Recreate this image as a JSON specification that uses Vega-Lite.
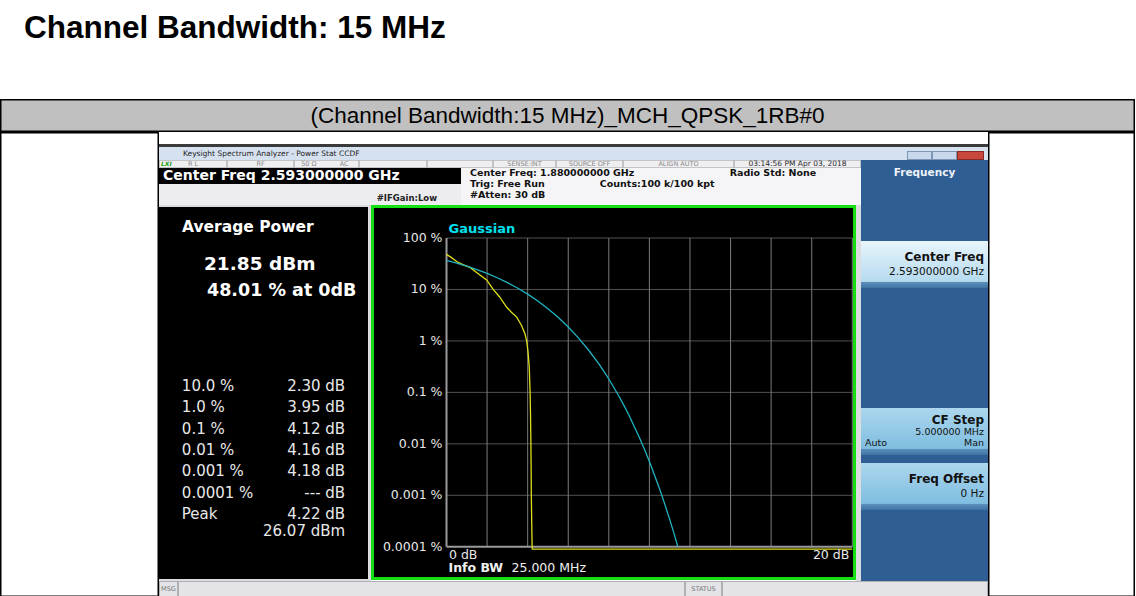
{
"$schema":"https://vega.github.io/schema/vega-lite/v6.json",
"padding":{"top":12,"left":0,"right":0,"bottom":0},
"background":"#ffffff",
"title":{"text":"Channel Bandwidth: 15 MHz","anchor":"start","frame":"bounds","dx":24,"offset":55,"font":"Liberation Sans","fontSize":31.5,"fontWeight":"bold","color":"#000000"},
"config":{"view":{"stroke":null},"concat":{"spacing":0},"text":{"font":"DejaVu Sans"}},
"datasets":{
"blank":[{"panel":"blank"}],
"ccdf":[
{"series":"Measured","db":0,"pct":48.0},
{"series":"Measured","db":0.25,"pct":41.5},
{"series":"Measured","db":0.5,"pct":35.0},
{"series":"Measured","db":0.8,"pct":30.5},
{"series":"Measured","db":1.16,"pct":26.8},
{"series":"Measured","db":1.5,"pct":21.2},
{"series":"Measured","db":1.98,"pct":15.3},
{"series":"Measured","db":2.3,"pct":10.0},
{"series":"Measured","db":2.6,"pct":7.3},
{"series":"Measured","db":2.97,"pct":4.5},
{"series":"Measured","db":3.2,"pct":3.6},
{"series":"Measured","db":3.46,"pct":2.9},
{"series":"Measured","db":3.7,"pct":2.0},
{"series":"Measured","db":3.87,"pct":1.36},
{"series":"Measured","db":3.95,"pct":1.0},
{"series":"Measured","db":4.02,"pct":0.6},
{"series":"Measured","db":4.08,"pct":0.3},
{"series":"Measured","db":4.12,"pct":0.1},
{"series":"Measured","db":4.14,"pct":0.04},
{"series":"Measured","db":4.16,"pct":0.01},
{"series":"Measured","db":4.17,"pct":0.004},
{"series":"Measured","db":4.18,"pct":0.001},
{"series":"Measured","db":4.2,"pct":0.0003},
{"series":"Measured","db":4.22,"pct":0.0001},
{"series":"Measured","db":4.23,"pct":0.00009},
{"series":"Measured","db":20,"pct":0.00009},
{"series":"Gaussian","db":0,"pct":36.79},
{"series":"Gaussian","db":0.5,"pct":32.56},
{"series":"Gaussian","db":1,"pct":28.4},
{"series":"Gaussian","db":1.5,"pct":24.35},
{"series":"Gaussian","db":2,"pct":20.5},
{"series":"Gaussian","db":2.5,"pct":16.89},
{"series":"Gaussian","db":3,"pct":13.6},
{"series":"Gaussian","db":3.5,"pct":10.66},
{"series":"Gaussian","db":4,"pct":8.11},
{"series":"Gaussian","db":4.5,"pct":5.97},
{"series":"Gaussian","db":5,"pct":4.23},
{"series":"Gaussian","db":5.5,"pct":2.88},
{"series":"Gaussian","db":6,"pct":1.867},
{"series":"Gaussian","db":6.5,"pct":1.148},
{"series":"Gaussian","db":7,"pct":0.666},
{"series":"Gaussian","db":7.5,"pct":0.361},
{"series":"Gaussian","db":7.75,"pct":0.259},
{"series":"Gaussian","db":8,"pct":0.182},
{"series":"Gaussian","db":8.5,"pct":0.0842},
{"series":"Gaussian","db":8.75,"pct":0.0553},
{"series":"Gaussian","db":9,"pct":0.0355},
{"series":"Gaussian","db":9.5,"pct":0.01347},
{"series":"Gaussian","db":9.75,"pct":0.00794},
{"series":"Gaussian","db":10,"pct":0.00454},
{"series":"Gaussian","db":10.5,"pct":0.00134},
{"series":"Gaussian","db":10.75,"pct":0.000689},
{"series":"Gaussian","db":11,"pct":0.000341},
{"series":"Gaussian","db":11.2,"pct":0.000188},
{"series":"Gaussian","db":11.4,"pct":0.000101}
]
},
"spacing":0,
"vconcat":[
{"width":1135,"height":33,"view":{"fill":"#c0c0c0"},
 "layer":[
  {"data":{"name":"blank"},"mark":{"type":"rect","fill":"#c0c0c0","stroke":"#000000","strokeWidth":3,"clip":true}},
  {"data":{"values":[{"caption":"(Channel Bandwidth:15 MHz)_MCH_QPSK_1RB#0"}]},
   "mark":{"type":"text","font":"Liberation Sans","fontSize":22.5,"color":"#000000"},
   "encoding":{"text":{"field":"caption"}}}
 ]},
{"hconcat":[
 {"width":159,"height":465,"view":{"fill":"#ffffff"},"data":{"name":"blank"},"mark":{"type":"rect","fill":"#ffffff","stroke":"#000000","strokeWidth":3,"clip":true}},
 {"vconcat":[
  {"width":829,"height":12,"view":{"fill":"#ffffff"},"data":{"name":"blank"},"mark":{"type":"rect","opacity":0}},
  {"width":829,"height":3,"view":{"fill":"#3a3a3a"},"data":{"name":"blank"},"mark":{"type":"rect","opacity":0}},
  {"hconcat":[
   {"width":748,"height":13,"view":{"fill":"#d6e1ef"},"data":{"values":[{"window":"Keysight Spectrum Analyzer - Power Stat CCDF"}]},
    "mark":{"type":"text","align":"left","dx":24,"fontSize":7.5,"color":"#1e1e1e"},
    "encoding":{"text":{"field":"window"},"x":{"datum":"start","type":"nominal","scale":{"type":"point","align":0},"axis":null}}},
   {"vconcat":[
    {"width":81,"height":4,"view":{"fill":"#d6e1ef"},"data":{"name":"blank"},"mark":{"type":"rect","opacity":0}},
    {"hconcat":[
     {"width":25,"height":9,"view":{"fill":"#c9d8ec"},"data":{"name":"blank"},"mark":{"type":"rect","fill":"#c9d8ec","stroke":"#7f95b5","strokeWidth":2,"clip":true}},
     {"width":25,"height":9,"view":{"fill":"#c9d8ec"},"data":{"name":"blank"},"mark":{"type":"rect","fill":"#c9d8ec","stroke":"#7f95b5","strokeWidth":2,"clip":true}},
     {"width":27,"height":9,"view":{"fill":"#c8483e"},"data":{"name":"blank"},"mark":{"type":"rect","fill":"#c8483e","stroke":"#8a2a22","strokeWidth":2,"clip":true}},
     {"width":4,"height":9,"view":{"fill":"#d6e1ef"},"data":{"name":"blank"},"mark":{"type":"rect","opacity":0}}
    ],"spacing":0,"bounds":"flush"}
   ],"spacing":0}
  ],"spacing":0},
  {"hconcat":[
   {"vconcat":[
    {"hconcat":[
     {"width":68,"height":8,"view":{"fill":"#efeff2"},"layer":[
       {"data":{"name":"blank"},"mark":{"type":"rect","fill":"#efeff2","stroke":"#b5b5ba","strokeWidth":1.5,"clip":true}},
       {"data":{"values":[{"status":"LXI"}]},"mark":{"type":"text","align":"left","dx":2,"fontSize":6,"fontWeight":"bold","fontStyle":"italic","color":"#14a014"},"encoding":{"text":{"field":"status"},"x":{"datum":"start","type":"nominal","scale":{"type":"point","align":0},"axis":null}}},
       {"data":{"values":[{"status":"R L"}]},"mark":{"type":"text","fontSize":6.5,"color":"#8a8a8a"},"encoding":{"text":{"field":"status"}}}
     ]},
     {"width":67,"height":8,"view":{"fill":"#efeff2"},"layer":[
       {"data":{"name":"blank"},"mark":{"type":"rect","fill":"#efeff2","stroke":"#b5b5ba","strokeWidth":1.5,"clip":true}},
       {"data":{"values":[{"status":"RF"}]},"mark":{"type":"text","fontSize":6.5,"color":"#8a8a8a"},"encoding":{"text":{"field":"status"}}}]},
     {"width":65,"height":8,"view":{"fill":"#efeff2"},"layer":[
       {"data":{"name":"blank"},"mark":{"type":"rect","fill":"#efeff2","stroke":"#b5b5ba","strokeWidth":1.5,"clip":true}},
       {"data":{"values":[{"status":"50 Ω"},{"status":"AC"}]},"mark":{"type":"text","fontSize":6.5,"color":"#8a8a8a"},"encoding":{"text":{"field":"status"},"x":{"field":"status","type":"nominal","sort":null,"scale":{"type":"point","padding":0.42},"axis":null}}}]},
     {"width":68,"height":8,"view":{"fill":"#efeff2"},"data":{"name":"blank"},"mark":{"type":"rect","fill":"#efeff2","stroke":"#b5b5ba","strokeWidth":1.5,"clip":true}},
     {"width":66,"height":8,"view":{"fill":"#efeff2"},"data":{"name":"blank"},"mark":{"type":"rect","fill":"#efeff2","stroke":"#b5b5ba","strokeWidth":1.5,"clip":true}},
     {"width":63,"height":8,"view":{"fill":"#efeff2"},"layer":[
       {"data":{"name":"blank"},"mark":{"type":"rect","fill":"#efeff2","stroke":"#b5b5ba","strokeWidth":1.5,"clip":true}},
       {"data":{"values":[{"status":"SENSE:INT"}]},"mark":{"type":"text","fontSize":6.5,"color":"#8a8a8a"},"encoding":{"text":{"field":"status"}}}]},
     {"width":67,"height":8,"view":{"fill":"#efeff2"},"layer":[
       {"data":{"name":"blank"},"mark":{"type":"rect","fill":"#efeff2","stroke":"#b5b5ba","strokeWidth":1.5,"clip":true}},
       {"data":{"values":[{"status":"SOURCE OFF"}]},"mark":{"type":"text","fontSize":6.5,"color":"#8a8a8a"},"encoding":{"text":{"field":"status"}}}]},
     {"width":111,"height":8,"view":{"fill":"#efeff2"},"layer":[
       {"data":{"name":"blank"},"mark":{"type":"rect","fill":"#efeff2","stroke":"#b5b5ba","strokeWidth":1.5,"clip":true}},
       {"data":{"values":[{"status":"ALIGN AUTO"}]},"mark":{"type":"text","fontSize":6.5,"color":"#8a8a8a"},"encoding":{"text":{"field":"status"}}}]},
     {"width":127,"height":8,"view":{"fill":"#efeff2"},"layer":[
       {"data":{"name":"blank"},"mark":{"type":"rect","fill":"#efeff2","stroke":"#b5b5ba","strokeWidth":1.5,"clip":true}},
       {"data":{"values":[{"status":"03:14:56 PM Apr 03, 2018"}]},"mark":{"type":"text","fontSize":7.5,"color":"#2a2a2a"},"encoding":{"text":{"field":"status"}}}]}
    ],"spacing":0,"bounds":"flush"},
    {"hconcat":[
     {"vconcat":[
      {"width":302,"height":16,"view":{"fill":"#000000"},"data":{"values":[{"setting":"Center Freq 2.593000000 GHz"}]},
       "mark":{"type":"text","align":"left","dx":4,"fontSize":14,"fontWeight":"bold","color":"#ffffff"},
       "encoding":{"text":{"field":"setting"},"x":{"datum":"start","type":"nominal","scale":{"type":"point","align":0},"axis":null}}},
      {"width":302,"height":21,"view":{"fill":"#ededf0"},"data":{"values":[{"setting":"#IFGain:Low"}]},
       "mark":{"type":"text","align":"right","dx":-24,"dy":3.5,"fontSize":8.5,"fontWeight":"bold","color":"#222222"},
       "encoding":{"text":{"field":"setting"},"x":{"datum":"end","type":"nominal","scale":{"type":"point","align":1},"axis":null}}}
     ],"spacing":0,"bounds":"flush"},
     {"width":400,"height":37,"view":{"fill":"#f5f5f7"},
      "data":{"values":[
       {"column":"A","line":1,"setting":"Center Freq: 1.880000000 GHz"},
       {"column":"A","line":2,"setting":"Trig: Free Run"},
       {"column":"A","line":3,"setting":"#Atten: 30 dB"},
       {"column":"B","line":2,"setting":"Counts:100 k/100 kpt"},
       {"column":"C","line":1,"setting":"Radio Std: None"}]},
      "mark":{"type":"text","align":"left","fontSize":9.5,"fontWeight":"bold","color":"#111111"},
      "encoding":{"text":{"field":"setting"},
       "x":{"field":"column","type":"nominal","scale":{"type":"point","domain":["A","B","C"],"padding":0.54,"align":0.064},"axis":null},
       "y":{"field":"line","type":"ordinal","scale":{"type":"point","domain":[1,2,3],"padding":0.72,"align":0.35},"axis":null}}}
    ],"spacing":0},
    {"hconcat":[
     {"vconcat":[
      {"width":209,"height":2,"view":{"fill":"#dcdce0"},"data":{"name":"blank"},"mark":{"type":"rect","opacity":0}},
      {"width":209,"height":40,"view":{"fill":"#000000"},"data":{"values":[{"readout":"Average Power"}]},
       "mark":{"type":"text","align":"left","dx":23,"fontSize":15.5,"fontWeight":"bold","color":"#ffffff"},
       "encoding":{"text":{"field":"readout"},"x":{"datum":"start","type":"nominal","scale":{"type":"point","align":0},"axis":null}}},
      {"width":209,"height":34,"view":{"fill":"#000000"},"data":{"values":[{"readout":"21.85 dBm"}]},
       "mark":{"type":"text","align":"left","dx":45,"fontSize":18.5,"fontWeight":"bold","color":"#ffffff"},
       "encoding":{"text":{"field":"readout"},"x":{"datum":"start","type":"nominal","scale":{"type":"point","align":0},"axis":null}}},
      {"width":209,"height":20,"view":{"fill":"#000000"},"data":{"values":[{"readout":"48.01 % at 0dB"}]},
       "mark":{"type":"text","align":"left","dx":48,"fontSize":17.5,"fontWeight":"bold","color":"#ffffff"},
       "encoding":{"text":{"field":"readout"},"x":{"datum":"start","type":"nominal","scale":{"type":"point","align":0},"axis":null}}},
      {"width":209,"height":74,"view":{"fill":"#000000"},"data":{"name":"blank"},"mark":{"type":"rect","opacity":0}},
      {"width":209,"height":150,"view":{"fill":"#000000"},
       "data":{"values":[
        {"probability":"10.0 %","power":"2.30 dB"},
        {"probability":"1.0 %","power":"3.95 dB"},
        {"probability":"0.1 %","power":"4.12 dB"},
        {"probability":"0.01 %","power":"4.16 dB"},
        {"probability":"0.001 %","power":"4.18 dB"},
        {"probability":"0.0001 %","power":"--- dB"},
        {"probability":"Peak","power":"4.22 dB"}]},
       "encoding":{"y":{"field":"probability","type":"nominal","sort":null,"scale":{"type":"point","padding":0.5},"axis":null}},
       "layer":[
        {"mark":{"type":"text","align":"left","fontSize":15,"color":"#e8e8e8"},
         "encoding":{"text":{"field":"probability"},"x":{"datum":"probability","type":"nominal","scale":{"type":"point","domain":["probability","power"],"padding":0.14},"axis":null}}},
        {"mark":{"type":"text","align":"right","fontSize":15,"color":"#e8e8e8"},
         "encoding":{"text":{"field":"power"},"x":{"datum":"power","type":"nominal","scale":{"type":"point","domain":["probability","power"],"padding":0.14},"axis":null}}}
       ]},
      {"width":209,"height":12,"view":{"fill":"#000000"},"data":{"values":[{"peak_power":"26.07 dBm"}]},
       "mark":{"type":"text","align":"right","fontSize":15,"color":"#e8e8e8"},
       "encoding":{"text":{"field":"peak_power"},"x":{"datum":"power","type":"nominal","scale":{"type":"point","domain":["probability","power"],"padding":0.14},"axis":null}}},
      {"width":209,"height":42,"view":{"fill":"#000000"},"data":{"name":"blank"},"mark":{"type":"rect","opacity":0}},
      {"width":209,"height":2,"view":{"fill":"#dcdce0"},"data":{"name":"blank"},"mark":{"type":"rect","opacity":0}}
     ],"spacing":0,"bounds":"flush"},
     {"width":3,"height":376,"view":{"fill":"#dcdce0"},"data":{"name":"blank"},"mark":{"type":"rect","opacity":0}},
     {"width":485,"height":375,"view":{"fill":"#000000"},
      "layer":[
       {"data":{"values":[{"pct":100},{"pct":10},{"pct":1},{"pct":0.1},{"pct":0.01},{"pct":0.001}]},
        "mark":{"type":"rule","color":"#525252","strokeWidth":1},
        "encoding":{"y":{"field":"pct","type":"quantitative","scale":{"type":"log","domain":[0.0001,100],"range":[341.75,33],"nice":false},"axis":null},
                    "x":{"datum":0,"type":"quantitative","scale":{"type":"linear","domain":[0,20],"range":[75.5,481.3],"nice":false,"zero":false},"axis":null},
                    "x2":{"datum":20}}},
       {"data":{"values":[{"db":2},{"db":4},{"db":6},{"db":8},{"db":10},{"db":12},{"db":14},{"db":16},{"db":18},{"db":20}]},
        "mark":{"type":"rule","color":"#7a7a7a","strokeWidth":1},
        "encoding":{"x":{"field":"db","type":"quantitative","scale":{"type":"linear","domain":[0,20],"range":[75.5,481.3],"nice":false,"zero":false},"axis":null},
                    "y":{"datum":0.0001,"type":"quantitative","scale":{"type":"log","domain":[0.0001,100],"range":[341.75,33],"nice":false},"axis":null},
                    "y2":{"datum":100}}},
       {"data":{"name":"blank"},
        "mark":{"type":"rule","color":"#9a9a9a","strokeWidth":2},
        "encoding":{"x":{"datum":0,"type":"quantitative","scale":{"type":"linear","domain":[0,20],"range":[75.5,481.3],"nice":false,"zero":false},"axis":null},
                    "y":{"datum":0.0001,"type":"quantitative","scale":{"type":"log","domain":[0.0001,100],"range":[341.75,33],"nice":false},"axis":null},
                    "y2":{"datum":100}}},
       {"data":{"name":"blank"},
        "mark":{"type":"rule","color":"#9a9a9a","strokeWidth":2},
        "encoding":{"y":{"datum":0.0001,"type":"quantitative","scale":{"type":"log","domain":[0.0001,100],"range":[341.75,33],"nice":false},"axis":null},
                    "x":{"datum":0,"type":"quantitative","scale":{"type":"linear","domain":[0,20],"range":[75.5,481.3],"nice":false,"zero":false},"axis":null},
                    "x2":{"datum":20}}},
       {"data":{"name":"ccdf"},
        "mark":{"type":"line","strokeWidth":1.3},
        "encoding":{
         "x":{"field":"db","type":"quantitative","scale":{"type":"linear","domain":[0,20],"range":[75.5,481.3],"nice":false,"zero":false},"axis":null},
         "y":{"field":"pct","type":"quantitative","scale":{"type":"log","domain":[0.0001,100],"range":[341.75,33],"nice":false},"axis":null},
         "color":{"field":"series","type":"nominal","scale":{"domain":["Measured","Gaussian"],"range":["#dede1a","#1fb4c0"]},"legend":null}}},
       {"data":{"values":[{"pct":100,"tick":"100 %"},{"pct":10,"tick":"10 %"},{"pct":1,"tick":"1 %"},{"pct":0.1,"tick":"0.1 %"},{"pct":0.01,"tick":"0.01 %"},{"pct":0.001,"tick":"0.001 %"},{"pct":0.0001,"tick":"0.0001 %"}]},
        "mark":{"type":"text","align":"right","dx":-4,"fontSize":12.5,"color":"#e8e8e8"},
        "encoding":{"text":{"field":"tick"},
                    "y":{"field":"pct","type":"quantitative","scale":{"type":"log","domain":[0.0001,100],"range":[341.75,33],"nice":false},"axis":null},
                    "x":{"datum":0,"type":"quantitative","scale":{"type":"linear","domain":[0,20],"range":[75.5,481.3],"nice":false,"zero":false},"axis":null}}},
       {"data":{"values":[{"db":0,"tick":"0 dB"}]},
        "mark":{"type":"text","align":"left","dx":2.5,"dy":8.3,"fontSize":12.5,"color":"#e8e8e8"},
        "encoding":{"text":{"field":"tick"},
                    "x":{"field":"db","type":"quantitative","scale":{"type":"linear","domain":[0,20],"range":[75.5,481.3],"nice":false,"zero":false},"axis":null},
                    "y":{"datum":0.0001,"type":"quantitative","scale":{"type":"log","domain":[0.0001,100],"range":[341.75,33],"nice":false},"axis":null}}},
       {"data":{"values":[{"db":20,"tick":"20 dB"}]},
        "mark":{"type":"text","align":"right","dx":-3,"dy":8.3,"fontSize":12.5,"color":"#e8e8e8"},
        "encoding":{"text":{"field":"tick"},
                    "x":{"field":"db","type":"quantitative","scale":{"type":"linear","domain":[0,20],"range":[75.5,481.3],"nice":false,"zero":false},"axis":null},
                    "y":{"datum":0.0001,"type":"quantitative","scale":{"type":"log","domain":[0.0001,100],"range":[341.75,33],"nice":false},"axis":null}}},
       {"data":{"values":[{"reference":"Gaussian"}]},
        "mark":{"type":"text","align":"left","baseline":"bottom","dx":2,"dy":-2.5,"fontSize":13,"fontWeight":"bold","color":"#00e1f0"},
        "encoding":{"text":{"field":"reference"},
                    "x":{"datum":0,"type":"quantitative","scale":{"type":"linear","domain":[0,20],"range":[75.5,481.3],"nice":false,"zero":false},"axis":null},
                    "y":{"datum":100,"type":"quantitative","scale":{"type":"log","domain":[0.0001,100],"range":[341.75,33],"nice":false},"axis":null}}},
       {"data":{"values":[{"info":"Info BW"}]},
        "mark":{"type":"text","align":"left","dx":2,"dy":21.3,"fontSize":12.5,"fontWeight":"bold","color":"#f0f0f0"},
        "encoding":{"text":{"field":"info"},
                    "x":{"datum":0,"type":"quantitative","scale":{"type":"linear","domain":[0,20],"range":[75.5,481.3],"nice":false,"zero":false},"axis":null},
                    "y":{"datum":0.0001,"type":"quantitative","scale":{"type":"log","domain":[0.0001,100],"range":[341.75,33],"nice":false},"axis":null}}},
       {"data":{"values":[{"info":"25.000 MHz"}]},
        "mark":{"type":"text","align":"left","dx":65,"dy":21.3,"fontSize":12.5,"color":"#f0f0f0"},
        "encoding":{"text":{"field":"info"},
                    "x":{"datum":0,"type":"quantitative","scale":{"type":"linear","domain":[0,20],"range":[75.5,481.3],"nice":false,"zero":false},"axis":null},
                    "y":{"datum":0.0001,"type":"quantitative","scale":{"type":"log","domain":[0.0001,100],"range":[341.75,33],"nice":false},"axis":null}}},
       {"data":{"name":"blank"},"mark":{"type":"rect","filled":false,"stroke":"#12e012","strokeWidth":6,"clip":true}}
      ]},
     {"width":5,"height":376,"view":{"fill":"#dcdce0"},"data":{"name":"blank"},"mark":{"type":"rect","opacity":0}}
    ],"spacing":0}
   ],"spacing":0},
   {"vconcat":[
    {"width":127,"height":25,"view":{"fill":"#2e5e93"},"data":{"values":[{"menu":"Frequency"}]},
     "mark":{"type":"text","fontSize":10.5,"fontWeight":"bold","color":"#eef3f8"},"encoding":{"text":{"field":"menu"}}},
    {"width":127,"height":56,"view":{"fill":"#2e5e93"},"data":{"name":"blank"},"mark":{"type":"rect","opacity":0}},
    {"width":127,"height":47,"view":{"fill":"#cbe6f5"},
     "layer":[
      {"data":{"name":"blank"},"mark":{"type":"rect","clip":true,"color":{"gradient":"linear","x1":0,"y1":0,"x2":0,"y2":1,"stops":[{"offset":0,"color":"#e8f5fc"},{"offset":0.86,"color":"#b5daef"},{"offset":0.88,"color":"#5a8fbb"},{"offset":1,"color":"#3f73a3"}]}}},
      {"data":{"values":[{"line":1,"softkey":"Center Freq"}]},"mark":{"type":"text","align":"right","dx":-4,"fontSize":12,"fontWeight":"bold","color":"#111111"},
       "encoding":{"text":{"field":"softkey"},"x":{"datum":"end","type":"nominal","scale":{"type":"point","align":1},"axis":null},"y":{"field":"line","type":"ordinal","scale":{"type":"point","domain":[1,2],"padding":1.19},"axis":null}}},
      {"data":{"values":[{"line":2,"softkey":"2.593000000 GHz"}]},"mark":{"type":"text","align":"right","dx":-4,"fontSize":10.5,"color":"#111111"},
       "encoding":{"text":{"field":"softkey"},"x":{"datum":"end","type":"nominal","scale":{"type":"point","align":1},"axis":null},"y":{"field":"line","type":"ordinal","scale":{"type":"point","domain":[1,2],"padding":1.19},"axis":null}}}
     ]},
    {"width":127,"height":120,"view":{"fill":"#2e5e93"},"data":{"name":"blank"},"mark":{"type":"rect","opacity":0}},
    {"width":127,"height":47,"view":{"fill":"#92c7e4"},
     "layer":[
      {"data":{"name":"blank"},"mark":{"type":"rect","clip":true,"color":{"gradient":"linear","x1":0,"y1":0,"x2":0,"y2":1,"stops":[{"offset":0,"color":"#acd7ee"},{"offset":0.86,"color":"#7fbde0"},{"offset":0.88,"color":"#5a8fbb"},{"offset":1,"color":"#3f73a3"}]}}},
      {"data":{"values":[{"line":1,"softkey":"CF Step"}]},"mark":{"type":"text","align":"right","dx":-4,"fontSize":12,"fontWeight":"bold","color":"#111111"},
       "encoding":{"text":{"field":"softkey"},"x":{"datum":"right","type":"nominal","scale":{"type":"point","domain":["left","right"],"padding":0},"axis":null},"y":{"field":"line","type":"ordinal","scale":{"type":"point","domain":[1,2,3],"padding":1.0},"axis":null}}},
      {"data":{"values":[{"line":2,"softkey":"5.000000 MHz"},{"line":3,"softkey":"Man"}]},"mark":{"type":"text","align":"right","dx":-4,"fontSize":9.5,"color":"#111111"},
       "encoding":{"text":{"field":"softkey"},"x":{"datum":"right","type":"nominal","scale":{"type":"point","domain":["left","right"],"padding":0},"axis":null},"y":{"field":"line","type":"ordinal","scale":{"type":"point","domain":[1,2,3],"padding":1.0},"axis":null}}},
      {"data":{"values":[{"line":3,"softkey":"Auto"}]},"mark":{"type":"text","align":"left","dx":4,"fontSize":9.5,"color":"#111111"},
       "encoding":{"text":{"field":"softkey"},"x":{"datum":"left","type":"nominal","scale":{"type":"point","domain":["left","right"],"padding":0},"axis":null},"y":{"field":"line","type":"ordinal","scale":{"type":"point","domain":[1,2,3],"padding":1.0},"axis":null}}}
     ]},
    {"width":127,"height":8,"view":{"fill":"#2e5e93"},"data":{"name":"blank"},"mark":{"type":"rect","opacity":0}},
    {"width":127,"height":47,"view":{"fill":"#92c7e4"},
     "layer":[
      {"data":{"name":"blank"},"mark":{"type":"rect","clip":true,"color":{"gradient":"linear","x1":0,"y1":0,"x2":0,"y2":1,"stops":[{"offset":0,"color":"#acd7ee"},{"offset":0.86,"color":"#7fbde0"},{"offset":0.88,"color":"#5a8fbb"},{"offset":1,"color":"#3f73a3"}]}}},
      {"data":{"values":[{"line":1,"softkey":"Freq Offset"}]},"mark":{"type":"text","align":"right","dx":-4,"fontSize":12,"fontWeight":"bold","color":"#111111"},
       "encoding":{"text":{"field":"softkey"},"x":{"datum":"end","type":"nominal","scale":{"type":"point","align":1},"axis":null},"y":{"field":"line","type":"ordinal","scale":{"type":"point","domain":[1,2],"padding":1.29},"axis":null}}},
      {"data":{"values":[{"line":2,"softkey":"0 Hz"}]},"mark":{"type":"text","align":"right","dx":-4,"fontSize":10.5,"color":"#111111"},
       "encoding":{"text":{"field":"softkey"},"x":{"datum":"end","type":"nominal","scale":{"type":"point","align":1},"axis":null},"y":{"field":"line","type":"ordinal","scale":{"type":"point","domain":[1,2],"padding":1.29},"axis":null}}}
     ]},
    {"width":127,"height":71,"view":{"fill":"#2e5e93"},"data":{"name":"blank"},"mark":{"type":"rect","opacity":0}}
   ],"spacing":0,"bounds":"flush"}
  ],"spacing":0},
  {"hconcat":[
   {"width":19,"height":16,"view":{"fill":"#e4e4e8"},"layer":[
     {"data":{"name":"blank"},"mark":{"type":"rect","fill":"#e4e4e8","stroke":"#b0b0b4","strokeWidth":2,"clip":true}},
     {"data":{"values":[{"bar":"MSG"}]},"mark":{"type":"text","fontSize":6.5,"color":"#777777"},"encoding":{"text":{"field":"bar"}}}]},
   {"width":507,"height":16,"view":{"fill":"#e4e4e8"},"data":{"name":"blank"},"mark":{"type":"rect","fill":"#e4e4e8","stroke":"#b0b0b4","strokeWidth":2,"clip":true}},
   {"width":37,"height":16,"view":{"fill":"#e4e4e8"},"layer":[
     {"data":{"name":"blank"},"mark":{"type":"rect","fill":"#e4e4e8","stroke":"#b0b0b4","strokeWidth":2,"clip":true}},
     {"data":{"values":[{"bar":"STATUS"}]},"mark":{"type":"text","fontSize":6.5,"color":"#777777"},"encoding":{"text":{"field":"bar"}}}]},
   {"width":266,"height":16,"view":{"fill":"#e4e4e8"},"data":{"name":"blank"},"mark":{"type":"rect","fill":"#e4e4e8","stroke":"#b0b0b4","strokeWidth":2,"clip":true}}
  ],"spacing":0,"bounds":"flush"}
 ],"spacing":0},
 {"width":147,"height":465,"view":{"fill":"#ffffff"},"data":{"name":"blank"},"mark":{"type":"rect","fill":"#ffffff","stroke":"#000000","strokeWidth":3,"clip":true}}
],"spacing":0}
]
}
